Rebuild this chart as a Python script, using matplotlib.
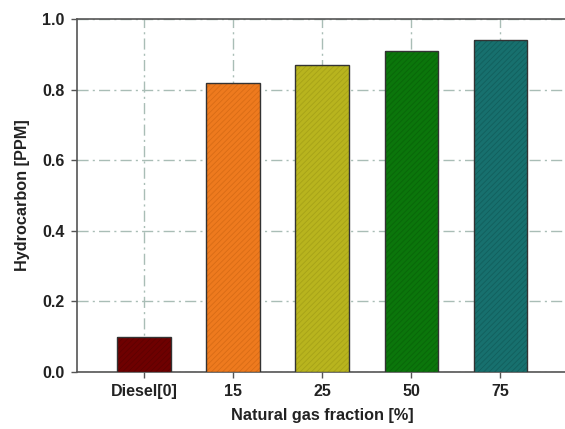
import matplotlib
matplotlib.use("Agg")
import matplotlib.pyplot as plt

categories = ["Diesel[0]", "15", "25", "50", "75"]
values = [0.10, 0.82, 0.87, 0.91, 0.94]
colors = ["#6E0000", "#EE7A1E", "#B8B41E", "#0B760B", "#17706E"]
hatch_colors = ["#5E0000", "#D86C16", "#A6A218", "#096509", "#125F5D"]
yticks = [0.0, 0.2, 0.4, 0.6, 0.8, 1.0]

plt.rcParams['font.family'] = ['Liberation Sans', 'DejaVu Sans']
plt.rcParams['hatch.linewidth'] = 0.6

fig = plt.figure(figsize=(5.65, 4.29), dpi=100)
ax = fig.add_axes([0.1363, 0.1329, 0.8637 + 0.004, 0.8228])

x = list(range(len(categories)))
for xi, v, c, hc in zip(x, values, colors, hatch_colors):
    ax.bar(xi, v, width=0.6, color=c, edgecolor=hc, linewidth=0.0,
           hatch="//////", zorder=3)
    ax.bar(xi, v, width=0.6, facecolor="none", edgecolor="#333333",
           linewidth=1.0, zorder=4)
ax.set_xlim(-0.75, 4.75)
ax.set_ylim(0, 1.0)
ax.set_xticks(x)
ax.set_xticklabels(categories, fontsize=11.5, fontweight="bold", color="#222222")
ax.set_yticks(yticks)
ax.set_yticklabels([f"{t:.1f}" for t in yticks], fontsize=11.5, fontweight="bold",
                   color="#222222")
ax.grid(True, linestyle=(0, (8, 3, 1.5, 3)), color="#a9bdb6", linewidth=1.0, zorder=0)
ax.tick_params(axis="both", direction="out", length=4, width=1, color="#555555", pad=5)
for s in ["left", "bottom", "top"]:
    ax.spines[s].set_color("#555555")
    ax.spines[s].set_linewidth(1.2)
ax.spines["right"].set_visible(False)
ax.set_xlabel("Natural gas fraction [%]", fontsize=11.7, fontweight="bold",
              labelpad=6, color="#222222")
ax.set_ylabel("Hydrocarbon [PPM]", fontsize=11.7, fontweight="bold", labelpad=9,
              color="#222222")

fig.savefig("out.png", dpi=100)
